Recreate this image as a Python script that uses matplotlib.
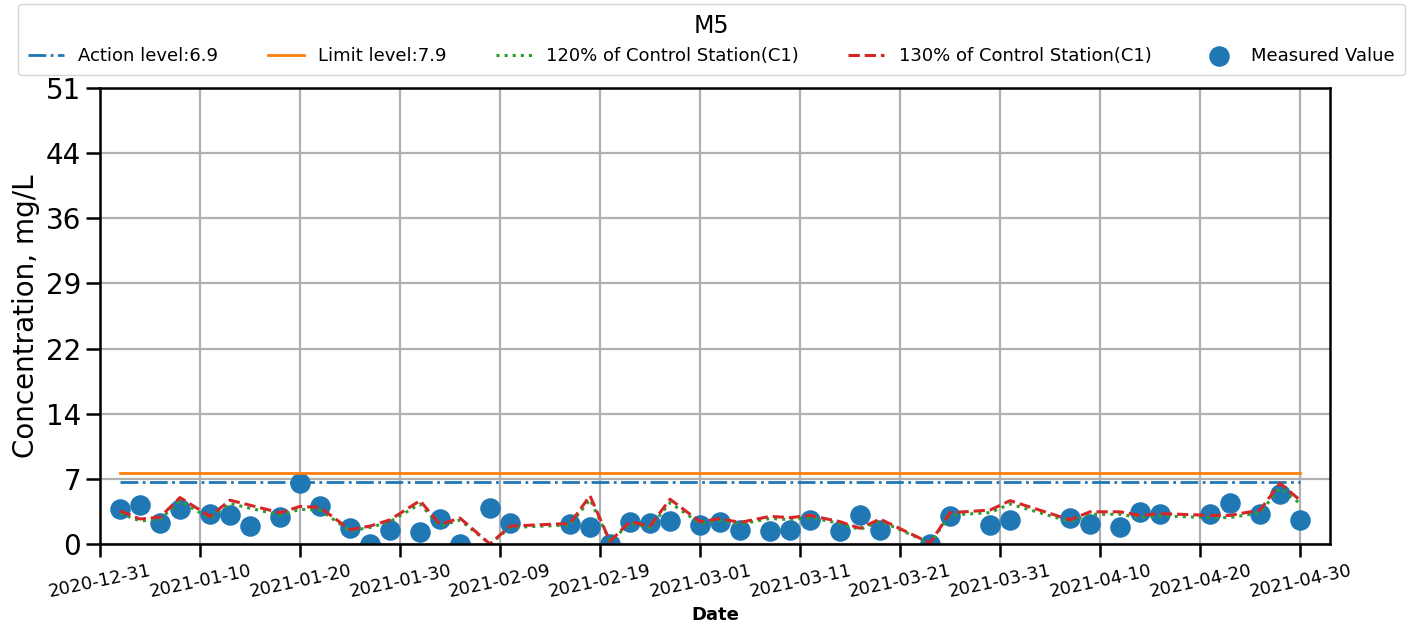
import numpy as np
import pandas as pd
import matplotlib
matplotlib.use("Agg")
import matplotlib.pyplot as plt
import matplotlib.dates as mdates

station = "M5"
action_level = 6.9
limit_level = 7.9

measured_dates = ["2021-01-02", "2021-01-04", "2021-01-06", "2021-01-08", "2021-01-11",
                  "2021-01-13", "2021-01-15", "2021-01-18", "2021-01-20", "2021-01-22",
                  "2021-01-25", "2021-01-27", "2021-01-29", "2021-02-01", "2021-02-03",
                  "2021-02-05", "2021-02-08", "2021-02-10", "2021-02-16", "2021-02-18",
                  "2021-02-20", "2021-02-22", "2021-02-24", "2021-02-26", "2021-03-01",
                  "2021-03-03", "2021-03-05", "2021-03-08", "2021-03-10", "2021-03-12",
                  "2021-03-15", "2021-03-17", "2021-03-19", "2021-03-24", "2021-03-26",
                  "2021-03-30", "2021-04-01", "2021-04-07", "2021-04-09", "2021-04-12",
                  "2021-04-14", "2021-04-16", "2021-04-21", "2021-04-23", "2021-04-26",
                  "2021-04-28", "2021-04-30"]
measured = [3.9, 4.4, 2.4, 3.9, 3.4, 3.2, 2.0, 3.0, 6.8, 4.2,
            1.8, 0.0, 1.6, 1.3, 2.8, 0.0, 4.0, 2.4, 2.2, 1.9,
            0.0, 2.5, 2.3, 2.6, 2.1, 2.5, 1.6, 1.4, 1.6, 2.7,
            1.5, 3.2, 1.6, 0.0, 3.1, 2.1, 2.7, 2.9, 2.2, 1.9,
            3.6, 3.4, 3.3, 4.6, 3.4, 5.6, 2.7]

control_dates = ["2021-01-02", "2021-01-04", "2021-01-06", "2021-01-08", "2021-01-11",
                 "2021-01-13", "2021-01-18", "2021-01-20", "2021-01-22", "2021-01-25",
                 "2021-01-27", "2021-01-29", "2021-02-01", "2021-02-03", "2021-02-05",
                 "2021-02-08", "2021-02-10", "2021-02-16", "2021-02-18", "2021-02-20",
                 "2021-02-22", "2021-02-24", "2021-02-26", "2021-03-01", "2021-03-03",
                 "2021-03-05", "2021-03-08", "2021-03-10", "2021-03-12", "2021-03-15",
                 "2021-03-17", "2021-03-19", "2021-03-24", "2021-03-26", "2021-03-30",
                 "2021-04-01", "2021-04-07", "2021-04-09", "2021-04-12", "2021-04-14",
                 "2021-04-16", "2021-04-21", "2021-04-23", "2021-04-26", "2021-04-28",
                 "2021-04-30"]
control_c1 = [2.85, 2.15, 2.31, 4.00, 2.38, 3.77, 2.69, 3.23, 3.15, 1.23,
              1.54, 2.08, 3.73, 1.69, 2.23, 0.00, 1.54, 1.77, 4.15, 0.23,
              1.92, 1.54, 3.85, 1.92, 2.19, 1.85, 2.38, 2.27, 2.46, 1.92,
              1.35, 2.15, 0.08, 2.69, 2.92, 3.73, 2.08, 2.77, 2.77, 2.46,
              2.62, 2.46, 2.46, 2.92, 5.23, 3.77]

ytick_labels = ["0", "7", "14", "22", "29", "36", "44", "51"]

md = pd.to_datetime(measured_dates)
cd = pd.to_datetime(control_dates)
c1 = np.array(control_c1)

fig, ax = plt.subplots(figsize=(14.16, 6.3), dpi=100)
fig.subplots_adjust(left=0.0706, right=0.9393, top=0.8603, bottom=0.1365)

ax.plot(md, [action_level] * len(md), "-.", color="tab:blue", lw=2,
        label=f"Action level:{action_level}")
ax.plot(md, [limit_level] * len(md), "-", color="tab:orange", lw=2,
        label=f"Limit level:{limit_level}")
ax.plot(cd, c1 * 1.2, ":", color="tab:green", lw=2.2, label="120% of Control Station(C1)")
ax.plot(cd, c1 * 1.3, "--", color="tab:red", lw=2.2, label="130% of Control Station(C1)")
ax.scatter(md, measured, s=190, color="tab:blue", label="Measured Value", zorder=1)

ax.set_ylim(0, 51)
ax.set_yticks(np.linspace(0, 51, len(ytick_labels)))
ax.set_yticklabels(ytick_labels)
ax.set_xlim(pd.Timestamp("2020-12-31"), pd.Timestamp("2021-05-03"))
ax.set_xticks(pd.date_range("2020-12-31", "2021-04-30", freq="10D"))
ax.xaxis.set_major_formatter(mdates.DateFormatter("%Y-%m-%d"))
plt.setp(ax.get_xticklabels(), rotation=12, ha="center")

ax.set_axisbelow(True)
ax.grid(True, color="#b0b0b0", lw=1.6)
for s in ax.spines.values():
    s.set_linewidth(1.8)
ax.tick_params(axis="y", labelsize=20, length=10, width=1.8)
ax.tick_params(axis="x", labelsize=13, length=9, width=1.8)

ax.set_ylabel("Concentration, mg/L", fontsize=20)
ax.set_xlabel("Date", fontsize=13, fontweight="bold")

ax.legend(loc="lower left", bbox_to_anchor=(-0.0667, 1.0285, 1.1276, 0.1),
          mode="expand", ncol=5, title=station, fontsize=13, title_fontsize=17,
          borderaxespad=0, borderpad=0.55, handletextpad=0.8, scatterpoints=1)

fig.savefig("out.png", dpi=100)
